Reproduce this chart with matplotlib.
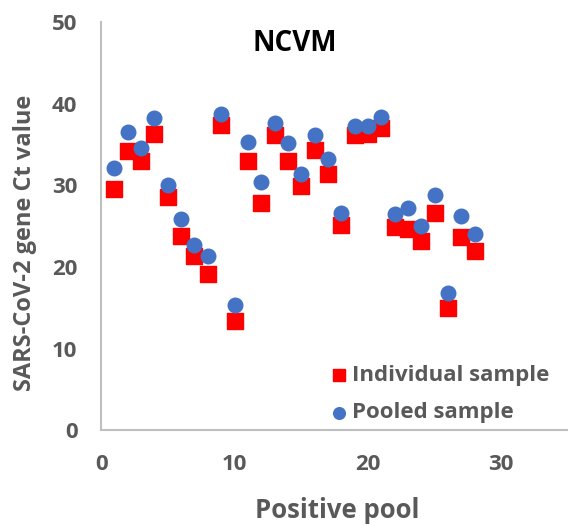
import matplotlib.pyplot as plt

plt.rcParams['font.family'] = ['Open Sans', 'DejaVu Sans']

#%%

# Ct values

pools = list(range(1, 29))

individual = [29.5, 34.2, 33.0, 36.3, 28.6, 23.8, 21.4, 19.2, 37.4, 13.4,
              33.0, 27.9, 36.2, 33.0, 29.9, 34.3, 31.4, 25.2, 36.2, 36.3,
              37.0, 24.9, 24.6, 23.2, 26.6, 15.0, 23.7, 21.9]

pooled = [32.1, 36.5, 34.6, 38.2, 30.1, 25.9, 22.7, 21.4, 38.8, 15.3,
          35.3, 30.4, 37.6, 35.2, 31.4, 36.2, 33.2, 26.6, 37.3, 37.3,
          38.4, 26.5, 27.2, 25.0, 28.8, 16.8, 26.2, 24.0]

x_ticks = [0, 10, 20, 30]
y_ticks = [0, 10, 20, 30, 40, 50]

#%%

grey = '#595959'

fig, ax = plt.subplots(figsize=(5.68, 5.26), dpi=100)
fig.subplots_adjust(left=0.178, right=1.0, bottom=0.182, top=0.958)

ax.scatter(pools, individual, marker='s', s=135, color='#FF0000',
           label='Individual sample', zorder=3)
ax.scatter(pools, pooled, marker='o', s=110, color='#4472C4',
           label='Pooled sample', zorder=4)

ax.set_xlim(0, 35)
ax.set_ylim(0, 50)
ax.set_xticks(x_ticks)
ax.set_yticks(y_ticks)
ax.tick_params(length=0, labelsize=16, labelcolor=grey, pad=17)
for lab in ax.get_xticklabels() + ax.get_yticklabels():
    lab.set_fontweight('bold')

for side in ['top', 'right']:
    ax.spines[side].set_visible(False)
for side in ['left', 'bottom']:
    ax.spines[side].set_color('#BFBFBF')
    ax.spines[side].set_linewidth(1.5)

ax.set_xlabel('Positive pool', fontsize=18.5, fontweight='bold', color=grey)
ax.set_ylabel('SARS-CoV-2 gene Ct value', fontsize=17, fontweight='bold', color=grey)
ax.xaxis.label.set_va('center')
ax.yaxis.label.set_va('center')
ax.xaxis.set_label_coords(0.505, -0.197)
ax.yaxis.set_label_coords(-0.162, 0.46)

ax.text(0.415, 0.947, 'NCVM', transform=ax.transAxes, fontsize=20,
        fontweight='bold', color='black', ha='center', va='center')

leg = ax.legend(loc='lower right', bbox_to_anchor=(0.979, -0.005), frameon=False,
                prop={'size': 16, 'weight': 'bold'}, handletextpad=0.0,
                handlelength=1.2, labelspacing=0.75, markerscale=0.8,
                borderaxespad=0.0)
for t in leg.get_texts():
    t.set_color(grey)

fig.savefig('out.png')
